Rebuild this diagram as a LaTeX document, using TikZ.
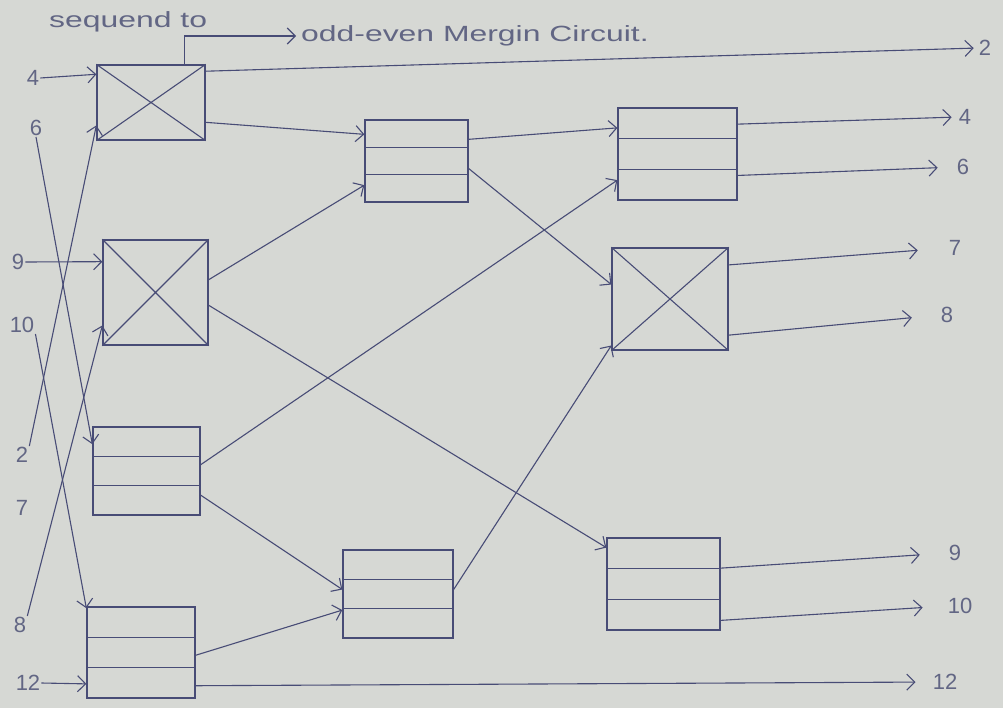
\documentclass[tikz,border=0pt]{standalone}
\usepackage{fontspec}
\setmainfont{Liberation Sans}
\usetikzlibrary{arrows.meta,calc}
\definecolor{paper}{RGB}{214,216,212}
\definecolor{ink}{RGB}{72,76,118}
\definecolor{pencil}{RGB}{98,102,132}
\begin{document}
\begin{tikzpicture}[x=1pt,y=-1pt,
  blk/.style={draw=ink, line width=1.3pt, inner sep=0pt},
  arr/.style={draw=ink, line width=1.1pt, -{Straight Barb[length=8pt,width=16pt,line width=1.1pt]}},
  wire/.style={draw=ink, line width=1.1pt},
  lbl/.style={text=pencil, font=\fontsize{22}{24}\selectfont, inner sep=1pt},
  ttl/.style={text=pencil, font=\fontsize{22}{24}\selectfont, inner sep=1pt}]
\fill[paper] (0,0) rectangle (1003,708);
\useasboundingbox (0,0) rectangle (1003,708);
% title
\node[ttl, anchor=west] (T1) at (48,22) {\scalebox{1.45}[1]{sequend to}};
\node[ttl, anchor=west] (T2) at (300,36) {\scalebox{1.45}[1]{odd-even Mergin Circuit.}};
% boxes
\node[blk, minimum width=108pt, minimum height=75pt]  (A1) at (151,102.5) {};
\node[blk, minimum width=105pt, minimum height=105pt] (A2) at (155.5,292.5) {};
\node[blk, minimum width=107pt, minimum height=88pt]  (A3) at (146.5,471) {};
\node[blk, minimum width=108pt, minimum height=91pt]  (A4) at (141,652.5) {};
\node[blk, minimum width=103pt, minimum height=82pt]  (B1) at (416.5,161) {};
\node[blk, minimum width=110pt, minimum height=88pt]  (B2) at (398,594) {};
\node[blk, minimum width=119pt, minimum height=92pt]  (C1) at (677.5,154) {};
\node[blk, minimum width=116pt, minimum height=102pt] (C2) at (670,299) {};
\node[blk, minimum width=113pt, minimum height=92pt]  (C3) at (663.5,584) {};
% crosses
\foreach \b in {A1,A2,C2}{
  \draw[ink, line width=1.1pt] (\b.north west) -- (\b.south east) (\b.north east) -- (\b.south west);
}
% row lines
\foreach \b in {A3,A4,B1,B2,C1,C3}{
  \draw[ink, line width=1.1pt] ($(\b.north west)!1/3!(\b.south west)$) -- ($(\b.north east)!1/3!(\b.south east)$);
  \draw[ink, line width=1.1pt] ($(\b.north west)!2/3!(\b.south west)$) -- ($(\b.north east)!2/3!(\b.south east)$);
}
% left labels
\node[lbl] (L4)  at (33,78) {4};
\node[lbl] (L6)  at (36,128) {6};
\node[lbl] (L9)  at (18,262) {9};
\node[lbl] (L10) at (22,325) {10};
\node[lbl] (L2)  at (22,455) {2};
\node[lbl] (L7)  at (22,508) {7};
\node[lbl] (L8)  at (20,625) {8};
\node[lbl] (L12) at (28,683) {12};
% right labels
\node[lbl] (R2)  at (985,48) {2};
\node[lbl] (R4)  at (965,117) {4};
\node[lbl] (R6)  at (963,167) {6};
\node[lbl] (R7)  at (955,248) {7};
\node[lbl] (R8)  at (947,315) {8};
\node[lbl] (R9)  at (955,553) {9};
\node[lbl] (R10) at (960,606) {10};
\node[lbl] (R12) at (945,682) {12};
% inputs
\draw[arr] (L4.east) -- ($(A1.north west)!0.13!(A1.south west)$);
\draw[arr] (L6.south) -- ($(A3.north west)!0.2!(A3.south west)$);
\draw[arr] (L9.east) -- ($(A2.north west)!0.21!(A2.south west)$);
\draw[arr] (L10.south east) -- ($(A4.north west)!0.02!(A4.south west)$);
\draw[arr] (L2.north east) -- ($(A1.north west)!0.8!(A1.south west)$);
\draw[arr] (L8.north east) -- ($(A2.north west)!0.81!(A2.south west)$);
\draw[arr] (L12.east) -- ($(A4.north west)!0.84!(A4.south west)$);
% first stage outputs
\draw[arr, shorten >=4pt] ($(A1.north west)!0.81!(A1.north east)$) |- (T2.west);
\draw[arr, shorten >=4pt] ($(A1.north east)!0.09!(A1.south east)$) -- (R2.west);
\draw[arr] ($(A1.north east)!0.76!(A1.south east)$) -- ($(B1.north west)!0.18!(B1.south west)$);
\draw[arr] ($(A2.north east)!0.38!(A2.south east)$) -- ($(B1.north west)!0.79!(B1.south west)$);
\draw[arr] ($(A2.north east)!0.62!(A2.south east)$) -- ($(C3.north west)!0.11!(C3.south west)$);
\draw[arr] ($(A3.north east)!0.43!(A3.south east)$) -- ($(C1.north west)!0.78!(C1.south west)$);
\draw[arr] ($(A3.north east)!0.77!(A3.south east)$) -- ($(B2.north west)!0.45!(B2.south west)$);
\draw[arr] ($(A4.north east)!0.53!(A4.south east)$) -- ($(B2.north west)!0.68!(B2.south west)$);
\draw[arr, shorten >=16pt] ($(A4.north east)!0.86!(A4.south east)$) -- (R12.west);
% second stage outputs
\draw[arr] ($(B1.north east)!0.24!(B1.south east)$) -- ($(C1.north west)!0.22!(C1.south west)$);
\draw[arr] ($(B1.north east)!0.59!(B1.south east)$) -- ($(C2.north west)!0.36!(C2.south west)$);
\draw[arr] ($(B2.north east)!0.45!(B2.south east)$) -- ($(C2.north west)!0.95!(C2.south west)$);
% final outputs
\draw[arr, shorten >=6pt] ($(C1.north east)!0.18!(C1.south east)$) -- (R4.west);
\draw[arr, shorten >=18pt] ($(C1.north east)!0.73!(C1.south east)$) -- (R6.west);
\draw[arr, shorten >=30pt] ($(C2.north east)!0.17!(C2.south east)$) -- (R7.west);
\draw[arr, shorten >=28pt] ($(C2.north east)!0.85!(C2.south east)$) -- (R8.west);
\draw[arr, shorten >=28pt] ($(C3.north east)!0.33!(C3.south east)$) -- (R9.west);
\draw[arr, shorten >=24pt] ($(C3.north east)!0.89!(C3.south east)$) -- (R10.west);
\end{tikzpicture}
\end{document}
